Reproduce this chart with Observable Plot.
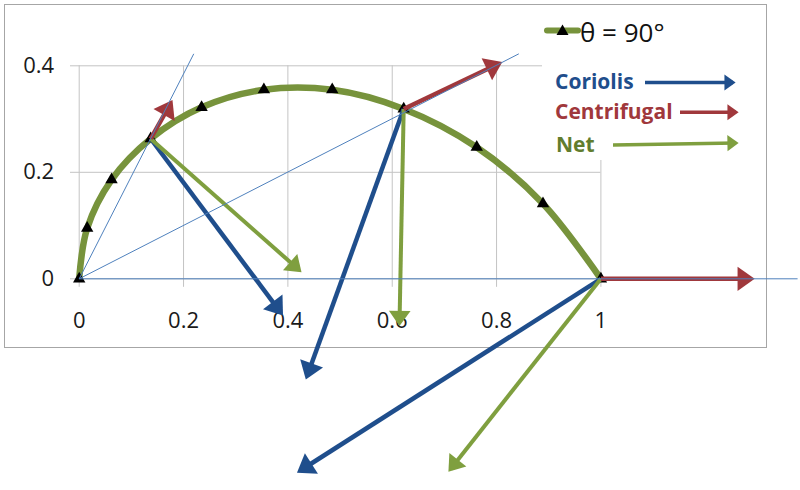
<!DOCTYPE html>
<html><head><meta charset="utf-8">
<script src="https://cdn.jsdelivr.net/npm/d3@7"></script>
<script src="https://cdn.jsdelivr.net/npm/@observablehq/plot@0.6"></script>
<style>
html,body{margin:0;padding:0;background:#fff;}
#wrap{position:relative;width:800px;height:490px;overflow:hidden;}
#border{position:absolute;left:4px;top:4px;width:763px;height:344px;box-sizing:border-box;border:1px solid #a6a6a6;}
#chart{position:absolute;left:0;top:0;}
#legend{position:absolute;left:542px;top:10px;background:#fff;}
#legend text{font-family:"Open Sans",sans-serif;}
</style></head>
<body>
<div id="wrap">
  <div id="border"></div>
  <div id="chart"></div>
  <svg id="legend" width="222" height="150" xmlns="http://www.w3.org/2000/svg">
    <defs>
      <marker id="lgB" viewBox="-2.6 -2.4 3.4 4.8" markerWidth="3.4" markerHeight="4.8" orient="auto" markerUnits="strokeWidth" overflow="visible"><path d="M-2.45,-2.3L0.75,0L-2.45,2.3Z" fill="#1F4E8C"/></marker>
      <marker id="lgR" viewBox="-2.6 -2.4 3.4 4.8" markerWidth="3.4" markerHeight="4.8" orient="auto" markerUnits="strokeWidth" overflow="visible"><path d="M-2.45,-2.3L0.75,0L-2.45,2.3Z" fill="#A0383C"/></marker>
      <marker id="lgG" viewBox="-2.6 -2.4 3.4 4.8" markerWidth="3.4" markerHeight="4.8" orient="auto" markerUnits="strokeWidth" overflow="visible"><path d="M-2.45,-2.3L0.75,0L-2.45,2.3Z" fill="#7F9F3F"/></marker>
    </defs>
    <line x1="5" y1="20.5" x2="36" y2="20.5" stroke="#77933C" stroke-width="6" stroke-linecap="round"/>
    <path d="M20.5,14.5L26.5,25L14.5,25Z" fill="#000"/>
    <text id="lgTheta" x="38" y="31.5" font-size="26" fill="#111"></text>
    <text id="lgCor" x="13" y="79" font-size="21" font-weight="bold" fill="#1F4E8C"></text>
    <line x1="103" y1="72.5" x2="191" y2="72.5" stroke="#1F4E8C" stroke-width="3.5" marker-end="url(#lgB)"/>
    <text id="lgCen" x="13" y="109" font-size="21" font-weight="bold" fill="#A0383C"></text>
    <line x1="138" y1="102.3" x2="194" y2="102.3" stroke="#A0383C" stroke-width="3.5" marker-end="url(#lgR)"/>
    <text id="lgNet" x="14" y="141.5" font-size="21" font-weight="bold" fill="#617D2E"></text>
    <line x1="71" y1="135" x2="194" y2="133" stroke="#7F9F3F" stroke-width="3.5" marker-end="url(#lgG)"/>
  </svg>
</div>
<script>
// ---- data ----
const xTicks = [0, 0.2, 0.4, 0.6, 0.8, 1];
const xTickLabels = ["0", "0.2", "0.4", "0.6", "0.8", "1"];
const yTicks = [0, 0.2, 0.4];
const yTickLabels = ["0", "0.2", "0.4"];

// trajectory (θ = 90°) sample points
const pathX = [0, 0.0153, 0.062, 0.137, 0.2346, 0.354, 0.485, 0.622, 0.762, 0.889, 1];
const pathY = [0, 0.095, 0.186, 0.263, 0.322, 0.355, 0.355, 0.319, 0.247, 0.141, 0];

// points where forces are drawn
const forceX = [0.137, 0.622, 1];
const forceY = [0.263, 0.319, 0];
// arrow tips
const coriolisX = [0.386, 0.437, 0.424];
const coriolisY = [-0.063, -0.182, -0.36];
const centrifugalX = [0.175, 0.804, 1.287];
const centrifugalY = [0.329, 0.404, 0];
const netX = [0.421, 0.614, 0.712];
const netY = [0.017, -0.082, -0.357];

// thin radial guide lines from origin
const guideX = [0.2196, 0.8427, 1.377];
const guideY = [0.4225, 0.4225, 0];

const legendTitle = "θ = 90°";
const legendLabels = ["Coriolis", "Centrifugal", "Net"];

// ---- build ----
document.getElementById("lgTheta").textContent = legendTitle;
document.getElementById("lgCor").textContent = legendLabels[0];
document.getElementById("lgCen").textContent = legendLabels[1];
document.getElementById("lgNet").textContent = legendLabels[2];

const NS = "http://www.w3.org/2000/svg";
function filledArrow(color) {
  const m = document.createElementNS(NS, "marker");
  m.setAttribute("viewBox", "-3 -2.8 4 5.6");
  m.setAttribute("markerWidth", "4");
  m.setAttribute("markerHeight", "5.6");
  m.setAttribute("refX", "0");
  m.setAttribute("refY", "0");
  m.setAttribute("orient", "auto");
  m.setAttribute("markerUnits", "strokeWidth");
  m.setAttribute("overflow", "visible");
  const p = document.createElementNS(NS, "path");
  p.setAttribute("d", "M-2.9,-2.7L0.9,0L-2.9,2.7Z");
  p.setAttribute("fill", color);
  p.setAttribute("stroke", "none");
  m.appendChild(p);
  return m;
}

const traj = pathX.map((x, i) => ({x, y: pathY[i]}));
const seg = (tx, ty) => forceX.map((x, i) => ({x1: x, y1: forceY[i], x2: tx[i], y2: ty[i]}));
const guides = guideX.map((x, i) => ({x2: x, y2: guideY[i]}));

const W = 800, H = 490;
const plot = Plot.plot({
  width: W, height: H,
  marginLeft: 78.7, marginRight: 199.6, marginTop: 65.3, marginBottom: 211.7,
  x: {domain: [0, 1], axis: null},
  y: {domain: [0, 0.4], axis: null},
  style: {background: "transparent", fontFamily: "'Open Sans', sans-serif", overflow: "visible"},
  marks: [
    Plot.ruleX(xTicks, {x: d => d, y1: () => -0.016, y2: () => 0.4, stroke: "#c4c4c4", strokeWidth: 1, strokeOpacity: 1}),
    Plot.ruleY(yTicks, {y: d => d, x1: () => -0.0167, x2: () => 1, stroke: "#c4c4c4", strokeWidth: 1, strokeOpacity: 1}),
    Plot.text(xTicks, {x: d => d, y: () => 0, text: (d, i) => xTickLabels[i], dy: 42, fontSize: 22, fill: "#1a1a1a"}),
    Plot.text(yTicks, {x: () => 0, y: d => d, text: (d, i) => yTickLabels[i], dx: -25, textAnchor: "end", fontSize: 22, fill: "#1a1a1a"}),
    Plot.line(traj, {x: "x", y: "y", curve: "catmull-rom", stroke: "#77933C", strokeWidth: 6.5}),
    Plot.dot(traj, {x: "x", y: "y", symbol: "triangle", r: 4.6, fill: "#000", stroke: "none"}),
    Plot.link(seg(coriolisX, coriolisY), {x1: "x1", y1: "y1", x2: "x2", y2: "y2", stroke: "#1F4E8C", strokeWidth: 4.5, strokeLinecap: "butt", markerEnd: filledArrow}),
    Plot.link(seg(netX, netY), {x1: "x1", y1: "y1", x2: "x2", y2: "y2", stroke: "#7F9F3F", strokeWidth: 4, strokeLinecap: "butt", markerEnd: filledArrow}),
    Plot.link(seg(centrifugalX, centrifugalY), {x1: "x1", y1: "y1", x2: "x2", y2: "y2", stroke: "#A0383C", strokeWidth: 4.5, strokeLinecap: "butt", markerEnd: filledArrow}),
    Plot.link(guides, {x1: () => 0, y1: () => 0, x2: "x2", y2: "y2", stroke: "#4F81BD", strokeWidth: 1})
  ]
});
document.getElementById("chart").appendChild(plot);
</script>
</body></html>
